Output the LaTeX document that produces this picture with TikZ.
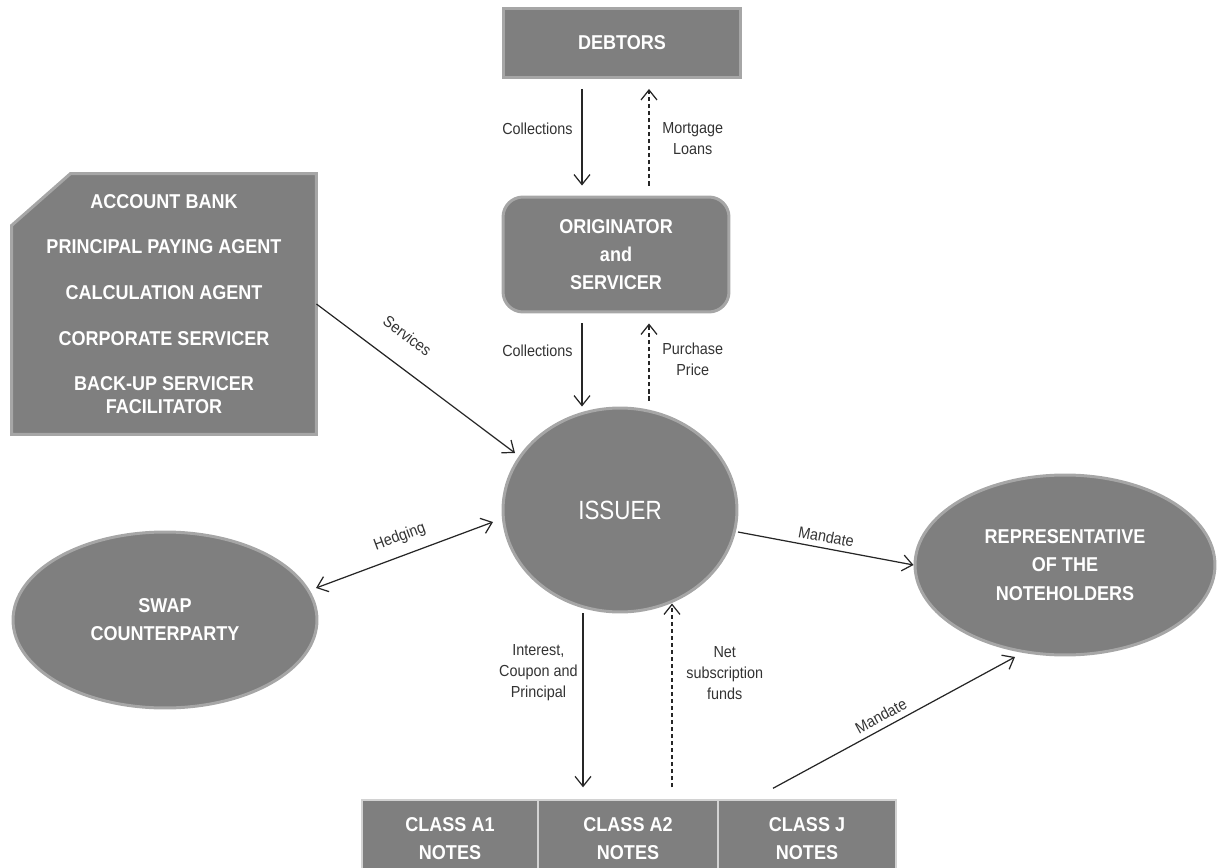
\documentclass[tikz,border=0pt]{standalone}
\usepackage{fontspec}
\setmainfont{Liberation Sans}
\newfontfamily\boxfont[FakeStretch=0.9]{Liberation Sans}
\newfontfamily\issuerfont[FakeStretch=0.85]{Liberation Sans}
\usetikzlibrary{shapes.geometric,arrows.meta,backgrounds}
\definecolor{boxfill}{HTML}{7F7F7F}
\definecolor{boxedge}{HTML}{A6A6A6}
\definecolor{flow}{HTML}{262626}
\definecolor{lbltext}{HTML}{333333}
\begin{document}
\begin{tikzpicture}[x=0.02cm,y=-0.02cm,
  party/.style={fill=boxfill,draw=boxedge,line width=1.7pt,text=white,align=center,
    font=\boxfont\bfseries\fontsize{11.4}{16}\selectfont},
  notebox/.style={party,draw=boxedge!50!white,line width=0.8pt,minimum height=1.56cm},
  flowline/.style={draw=flow,line width=0.7pt,-{Straight Barb[length=2mm,width=3.2mm]}},
  flowboth/.style={flowline,{Straight Barb[length=2mm,width=3.2mm]}-{Straight Barb[length=2mm,width=3.2mm]}},
  paid/.style={flowline,dash pattern=on 2.3pt off 1.7pt},
  lbl/.style={text=lbltext,align=center,inner sep=1pt,font=\boxfont\fontsize{9.1}{12}\selectfont}]
\useasboundingbox (0,0) rectangle (1217,868);

\node[party,minimum width=4.76cm,minimum height=1.38cm] (debtors) at (622,43) {DEBTORS};
\node[party,rounded corners=0.4cm,minimum width=4.52cm,minimum height=2.3cm] (orig) at (616,254.5) {ORIGINATOR\\and\\SERVICER};
\node[party,fill=none,draw=none,minimum width=6.04cm,minimum height=5.16cm,
  font=\boxfont\bfseries\fontsize{11.4}{13}\selectfont] (agents) at (164,304)
  {ACCOUNT BANK\\[13pt]PRINCIPAL PAYING AGENT\\[13pt]CALCULATION AGENT\\[13pt]CORPORATE SERVICER\\[13pt]BACK-UP SERVICER\\FACILITATOR};
\begin{scope}[on background layer]
\draw[fill=boxfill,draw=boxedge,line width=1.7pt] ([yshift=-1.04cm]agents.north west) -- ([xshift=1.18cm]agents.north west)
  -- (agents.north east) -- (agents.south east) -- (agents.south west) -- cycle;
\end{scope}
\node[party,ellipse,minimum width=4.68cm,minimum height=4.08cm,font=\issuerfont\fontsize{15}{18}\selectfont] (issuer) at (620,510) {ISSUER};
\node[party,ellipse,minimum width=6.08cm,minimum height=3.52cm] (swap) at (165,620) {SWAP\\COUNTERPARTY};
\node[party,ellipse,minimum width=6cm,minimum height=3.6cm] (rep) at (1065,565) {REPRESENTATIVE\\OF THE\\NOTEHOLDERS};
\node[notebox,minimum width=3.52cm] (a1) at (450,839) {CLASS A1\\NOTES};
\node[notebox,minimum width=3.6cm] (a2) at (628,839) {CLASS A2\\NOTES};
\node[notebox,minimum width=3.56cm] (cj) at (807,839) {CLASS J\\NOTES};

\draw[flowline] ([shift={(-40,10)}]debtors.south) -- node[lbl,pos=0.41,left=0.14cm] {Collections} ([shift={(-34,-10)}]orig.north);
\draw[paid] ([shift={(33,-10)}]orig.north) -- node[lbl,pos=0.49,right=0.22cm] {Mortgage\\Loans} ([shift={(27,10)}]debtors.south);
\draw[flowline] ([shift={(-34,10)}]orig.south) -- node[lbl,pos=0.33,left=0.14cm] {Collections} ([shift={(-38,0)}]issuer.north);
\draw[paid] ([shift={(29,-6)}]issuer.north) -- node[lbl,pos=0.53,right=0.22cm] {Purchase\\Price} ([shift={(33,10)}]orig.south);
\draw[flowline] (agents.east) -- node[lbl,pos=0.37,sloped,above=0.42cm] {Services} ([shift={(-105,-57)}]issuer.center);
\draw[flowboth] ([shift={(151,-32)}]swap.center) -- node[lbl,pos=0.51,sloped,above=0.17cm] {Hedging} ([shift={(-127,12)}]issuer.center);
\draw[flowline] ([shift={(118,22)}]issuer.center) -- node[lbl,pos=0.49,sloped,above=0.07cm] {Mandate} (rep.west);
\draw[flowline] ([shift={(-37,0)}]issuer.south) -- node[lbl,pos=0.34,left=0.06cm] {Interest,\\Coupon and\\Principal} ([shift={(-45,-12)}]a2.north);
\draw[paid] ([shift={(44,-12)}]a2.north) -- node[lbl,pos=0.62,right=0.24cm] {Net\\subscription\\funds} ([shift={(52,-10)}]issuer.south);
\draw[flowline] ([shift={(-34,-11)}]cj.north) -- node[lbl,pos=0.47,sloped,above=0.08cm] {Mandate} ([shift={(-50,92)}]rep.center);
\end{tikzpicture}
\end{document}
